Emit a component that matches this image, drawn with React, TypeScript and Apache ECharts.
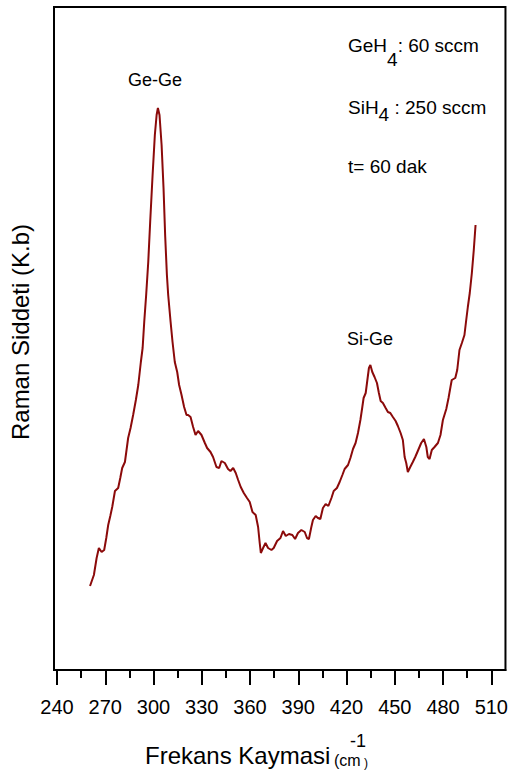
import React, { useEffect, useRef } from "react";
import * as echarts from "echarts";

// Raman shift (cm^-1) and intensity (a.u.)
const shift: number[] = [
  260.5, 262.9, 264.6, 266.0, 267.7, 269.3, 270.6, 271.8, 273.1, 274.3, 276.0, 278.0, 279.3, 280.5, 282.2, 283.2,
  284.2, 285.7, 287.3, 289.0, 290.5, 292.1, 293.2, 294.2, 295.4, 296.7, 297.9, 299.4, 300.8, 301.9, 302.7, 303.7,
  305.0, 306.2, 307.2, 308.3, 309.1, 310.6, 311.8, 313.2, 314.7, 315.9, 317.4, 319.0, 320.5, 321.5, 323.0, 324.6,
  326.1, 327.7, 329.8, 331.9, 333.3, 335.4, 337.0, 339.1, 340.8, 342.2, 344.3, 346.3, 347.8, 349.5, 351.1, 352.6,
  354.2, 356.1, 358.1, 359.8, 361.5, 363.5, 365.0, 366.0, 366.7, 368.1, 369.6, 371.2, 373.3, 374.7, 376.8, 378.9,
  380.5, 382.2, 384.2, 386.3, 388.0, 389.8, 391.9, 394.0, 395.4, 396.6, 398.1, 399.1, 400.8, 402.2, 403.7, 405.3,
  407.0, 408.7, 410.6, 412.0, 414.0, 415.7, 417.4, 418.8, 420.9, 422.4, 424.0, 425.6, 427.1, 428.6, 429.8, 430.6,
  431.9, 432.7, 433.9, 434.8, 436.0, 437.4, 438.9, 440.1, 441.2, 442.6, 444.3, 445.7, 447.2, 448.8, 450.5, 451.9,
  453.6, 455.0, 456.1, 457.1, 458.1, 459.6, 461.2, 462.7, 464.3, 466.4, 468.1, 469.6, 470.5, 471.6, 473.0, 474.7,
  476.8, 478.4, 479.9, 482.0, 483.4, 484.6, 485.4, 487.6, 488.8, 490.2, 491.7, 493.3, 494.4, 495.4, 496.6, 497.9,
  499.1, 500.2,
];
const intensity: number[] = [
  84, 95, 112, 122, 118, 120, 132, 145, 154, 163, 179, 182, 192, 202, 208, 220,
  232, 242, 255, 270, 285, 308, 322, 348, 375, 408, 448, 495, 535, 555, 562, 555,
  525, 482, 435, 395, 375, 348, 328, 308, 298, 285, 275, 263, 255, 255, 253, 243,
  235, 239, 235, 227, 222, 218, 213, 203, 202, 209, 207, 201, 199, 202, 197, 190,
  183, 177, 172, 168, 158, 155, 143, 127, 117, 122, 127, 122, 120, 122, 129, 132,
  139, 134, 136, 135, 131, 137, 140, 138, 132, 131, 143, 150, 154, 152, 151, 162,
  166, 164, 172, 179, 182, 188, 195, 201, 205, 212, 221, 227, 237, 250, 263, 272,
  277, 287, 302, 305, 298, 293, 287, 277, 269, 267, 262, 258, 257, 253, 249, 244,
  237, 230, 213, 207, 198, 203, 208, 213, 219, 227, 231, 223, 213, 211, 220, 223,
  227, 235, 250, 261, 272, 283, 290, 292, 300, 320, 327, 335, 350, 363, 377, 397,
  420, 445,
];
const majorTicks: number[] = [240, 270, 300, 330, 360, 390, 420, 450, 480, 510];
const minorTicks: number[] = [255, 285, 315, 345, 375, 405, 435, 465, 495];

const FONT = '"Liberation Sans", Arial, Helvetica, sans-serif';
const CURVE = "#8b0a0a";

function measure(text: string, size: number): number {
  const c = document.createElement("canvas");
  const ctx = c.getContext("2d");
  if (!ctx) return text.length * size * 0.55;
  ctx.font = `${size}px ${FONT}`;
  return ctx.measureText(text).width;
}

export default function App() {
  const ref = useRef<HTMLDivElement>(null);
  useEffect(() => {
    if (!ref.current) return;
    const chart = echarts.init(ref.current, undefined, { renderer: "svg" });
    const data = shift.map((x, i) => [x, intensity[i]]);

    const txt = (text: string, x: number, y: number, size: number, extra: any = {}) => ({
      type: "text",
      x,
      y,
      style: { text, font: `${size}px ${FONT}`, fill: "#000", align: "left", verticalAlign: "middle", ...extra },
    });

    const fs = 19;
    const g1 = 348 + measure("GeH", fs);
    const g2 = g1 + measure("4", fs);
    const s1 = 348 + measure("SiH", fs);
    const s2 = s1 + measure("4", fs);

    chart.setOption({
      animation: false,
      grid: { left: 54, right: 5, top: 7, bottom: 100, show: true, borderColor: "#000", borderWidth: 2 },
      xAxis: [
        {
          type: "value",
          min: 238.1,
          max: 518.8,
          position: "bottom",
          axisLine: { show: true, lineStyle: { color: "#000", width: 2 } },
          axisTick: { show: true, customValues: majorTicks, length: 15, lineStyle: { color: "#000", width: 2 } },
          axisLabel: { customValues: majorTicks, fontSize: 20, fontFamily: FONT, color: "#000", margin: 27 },
          splitLine: { show: false },
        },
        {
          type: "value",
          min: 238.1,
          max: 518.8,
          position: "bottom",
          axisLine: { show: false },
          axisTick: { show: true, customValues: minorTicks, length: 8, lineStyle: { color: "#000", width: 2 } },
          axisLabel: { show: false },
          splitLine: { show: false },
        },
      ],
      yAxis: { type: "value", min: 0, max: 663, show: false, splitLine: { show: false } },
      series: [
        {
          type: "line",
          data,
          showSymbol: false,
          smooth: false,
          lineStyle: { color: CURVE, width: 2 },
          itemStyle: { color: CURVE },
        },
      ],
      graphic: [
        txt("Ge-Ge", 155, 80, 18, { align: "center" }),
        txt("Si-Ge", 370, 339, 18, { align: "center" }),
        txt("GeH", 348, 45, fs),
        txt("4", g1, 59, fs),
        txt(": 60 sccm", g2, 45, fs),
        txt("SiH", 348, 107, fs),
        txt("4", s1, 114, fs),
        txt(" : 250 sccm", s2, 107, fs),
        txt("t= 60 dak", 348, 166, fs),
        txt("Frekans Kaymasi", 145, 755, 24),
        txt("(cm", 334, 760, 16),
        txt("-1", 350, 741, 18),
        txt(")", 364, 763, 12),
        {
          type: "text",
          x: 20,
          y: 332,
          rotation: Math.PI / 2,
          style: { text: "Raman Siddeti (K.b)", font: `24px ${FONT}`, fill: "#000", align: "center", verticalAlign: "middle" },
        },
      ],
    });
    return () => chart.dispose();
  }, []);
  return <div ref={ref} style={{ width: 511, height: 770, position: "absolute", left: 0, top: 0 }} />;
}
